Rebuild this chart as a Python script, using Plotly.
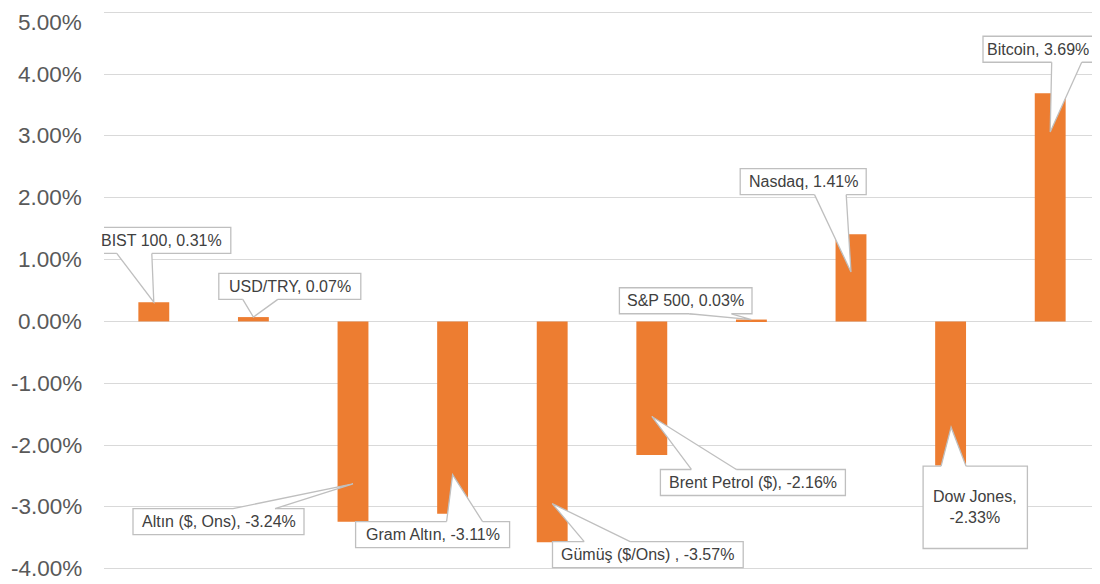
import plotly.graph_objects as go

# ---- data ----
categories = ["BIST 100", "USD/TRY", "Altın ($, Ons)", "Gram Altın", "Gümüş ($/Ons) ",
              "Brent Petrol ($)", "S&P 500", "Nasdaq", "Dow Jones", "Bitcoin"]
values = [0.31, 0.07, -3.24, -3.11, -3.57, -2.16, 0.03, 1.41, -2.33, 3.69]  # percent
tick_vals = [-4, -3, -2, -1, 0, 1, 2, 3, 4, 5]
tick_text = ["-4.00%", "-3.00%", "-2.00%", "-1.00%", "0.00%",
             "1.00%", "2.00%", "3.00%", "4.00%", "5.00%"]

# ---- callout layout (pixel offsets relative to the bar end; y positive = up) ----
# box: (x0, x1, y0, y1); wedge: (base_a_x, base_b_x, base_y, tip_x, tip_y); sep: label separator
callouts = [
    dict(box=(-61, 77, 48.8, 74.8), wedge=(-37, -2, 48.8, 0, 0), sep=", "),
    dict(box=(-34.6, 107.4, 17.7, 43.7), wedge=(-10.6, 24.4, 17.7, 0, 0), sep=", "),
    dict(box=(-220, -49, -12.8, 13.2), wedge=(-120, -78, 13.2, 0, 38), sep=", "),
    dict(box=(-97, 57, -33.8, -7.8), wedge=(-6, 30, -7.8, 0, 39), sep=", "),
    dict(box=(0.3, 191, -25.4, 0.6), wedge=(32, 78, 0.6, 0, 38.6), sep=", "),
    dict(box=(8.6, 193.6, -40.5, -14.5), wedge=(39.6, 84.6, -14.5, 0, 38.5), sep=", "),
    dict(box=(-132, 0.6, 5.8, 31.8), wedge=(-62, -20, 5.8, 0, 0), sep=", "),
    dict(box=(-110.8, 15.2, 39.6, 65.6), wedge=(-36.5, -4.8, 39.6, 0, -37.8), sep=", "),
    dict(box=(-27.5, 76.8, -83, -0.7), wedge=(-9.5, 15.5, -0.7, 0.5, 38.3), sep=",<br>"),
    dict(box=(-67.2, 42.8, 31, 57), wedge=(1.5, 31.5, 31, 0, -38.7), sep=", "),
]

BAR_COLOR = "#ED7D31"
GRID = "#D9D9D9"
BORDER = "#BFBFBF"
FONT = "Liberation Sans, Arial, sans-serif"
TICK_FONT = dict(family=FONT, size=22.5, color="#595959")

x_idx = list(range(len(categories)))

fig = go.Figure()
fig.add_trace(go.Bar(
    x=x_idx, y=values, width=0.31,
    marker=dict(color=BAR_COLOR, line=dict(width=0)),
    hovertext=categories, hoverinfo="text+y",
))

shapes = []
annotations = []
for i, (cat, v, c) in enumerate(zip(categories, values, callouts)):
    bx0, bx1, by0, by1 = c["box"]
    ax, bx, base_y, tx, ty = c["wedge"]
    common = dict(xref="x", yref="y", xsizemode="pixel", ysizemode="pixel",
                  xanchor=i, yanchor=v, layer="above")
    # box
    shapes.append(dict(type="rect", x0=bx0, x1=bx1, y0=by0, y1=by1,
                       fillcolor="white", line=dict(color=BORDER, width=1.3), **common))
    # wedge fill (extends slightly into box to hide its border)
    ext = -1.6 if ty > base_y else 1.6
    p_fill = (f"M {ax},{base_y + ext} L {ax},{base_y} L {tx},{ty} "
              f"L {bx},{base_y} L {bx},{base_y + ext} Z")
    shapes.append(dict(type="path", path=p_fill, fillcolor="white",
                       line=dict(width=0), **common))
    # wedge outline (two sides only)
    p_line = f"M {ax},{base_y} L {tx},{ty} L {bx},{base_y}"
    shapes.append(dict(type="path", path=p_line, fillcolor="rgba(0,0,0,0)",
                       line=dict(color=BORDER, width=1.3), **common))
    # text
    annotations.append(dict(
        x=i, y=v, xref="x", yref="y", showarrow=False,
        text=f"{cat}{c['sep']}{v:.2f}%",
        xshift=(bx0 + bx1) / 2, yshift=(by0 + by1) / 2,
        xanchor="center", yanchor="middle", align="center",
        font=dict(family=FONT, size=16, color="#404040"),
    ))

# y tick labels as annotations (so the top one stays visible inside the page)
top_val = max(tick_vals)
for tv, tt in zip(tick_vals, tick_text):
    if tv == top_val:
        annotations.append(dict(x=0, xref="paper", y=1, yref="paper", text=tt,
                                showarrow=False, xanchor="right", yanchor="top",
                                xshift=-20, yshift=3, font=TICK_FONT))
    else:
        annotations.append(dict(x=0, xref="paper", y=tv, yref="y", text=tt,
                                showarrow=False, xanchor="right", yanchor="middle",
                                xshift=-20, font=TICK_FONT))

# The page body has an 8px default margin, so the figure is sized to fit the window.
fig.update_layout(
    width=1092, height=576,
    margin=dict(l=96, r=0, t=3.2, b=14.2),
    paper_bgcolor="white", plot_bgcolor="white",
    showlegend=False,
    bargap=0.69,
    shapes=shapes,
    annotations=annotations,
    xaxis=dict(range=[-0.5, len(categories) - 0.5], showgrid=False, zeroline=False,
               showticklabels=False, showline=False, ticks=""),
    yaxis=dict(range=[-4.02, 5.02], tickvals=tick_vals,
               showgrid=True, gridcolor=GRID, gridwidth=1.3, zeroline=False,
               showline=False, ticks="", showticklabels=False),
    font=dict(family=FONT),
)

fig.write_html("out.html")
